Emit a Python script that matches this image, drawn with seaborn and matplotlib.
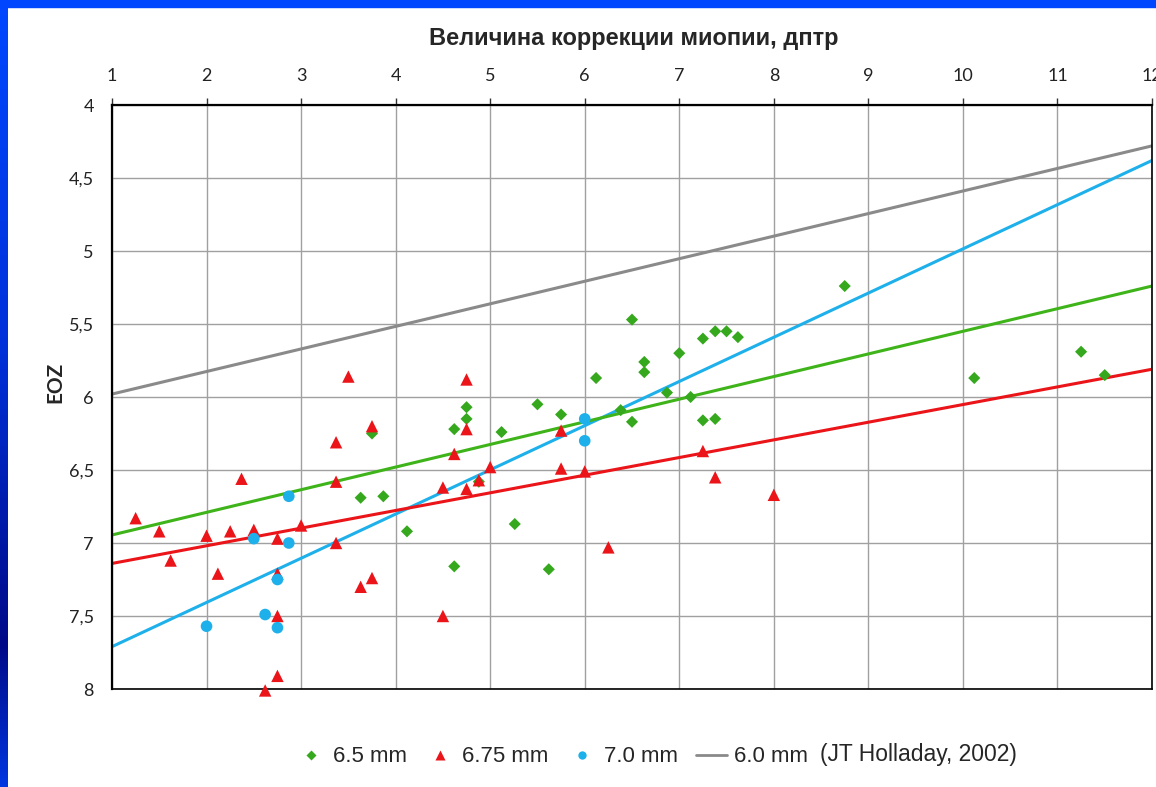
import numpy as np
import pandas as pd
import matplotlib
matplotlib.use("Agg")
import matplotlib.pyplot as plt
import seaborn as sns
from matplotlib.lines import Line2D
from matplotlib.colors import LinearSegmentedColormap

# 6.5 mm (green diamonds)
x_65 = [3.63, 3.75, 3.87, 4.12, 4.62, 4.62, 4.75, 4.75, 4.88, 5.12, 5.26,
        5.50, 5.62, 5.75, 6.12, 6.38, 6.50, 6.50, 6.63, 6.63, 6.87, 7.00,
        7.12, 7.25, 7.25, 7.38, 7.38, 7.50, 7.62, 8.75, 10.12, 11.25, 11.50]
y_65 = [6.69, 6.25, 6.68, 6.92, 6.22, 7.16, 6.07, 6.15, 6.58, 6.24, 6.87,
        6.05, 7.18, 6.12, 5.87, 6.09, 5.47, 6.17, 5.76, 5.83, 5.97, 5.70,
        6.00, 5.60, 6.16, 5.55, 6.15, 5.55, 5.59, 5.24, 5.87, 5.69, 5.85]

# 6.75 mm (red triangles)
x_675 = [1.25, 1.50, 1.62, 2.00, 2.12, 2.25, 2.37, 2.50, 2.62, 2.75, 2.75,
         2.75, 2.75, 3.00, 3.37, 3.37, 3.37, 3.50, 3.63, 3.75, 3.75, 4.50,
         4.50, 4.62, 4.75, 4.75, 4.75, 4.88, 5.00, 5.75, 5.75, 6.00, 6.25,
         7.25, 7.38, 8.00]
y_675 = [6.83, 6.92, 7.12, 6.95, 7.21, 6.92, 6.56, 6.91, 8.01, 6.97, 7.21,
         7.50, 7.91, 6.88, 6.31, 6.58, 7.00, 5.86, 7.30, 6.20, 7.24, 6.62,
         7.50, 6.39, 5.88, 6.22, 6.63, 6.57, 6.48, 6.23, 6.49, 6.51, 7.03,
         6.37, 6.55, 6.67]

# 7.0 mm (blue circles)
x_70 = [2.00, 2.50, 2.62, 2.75, 2.75, 2.87, 2.87, 6.00, 6.00]
y_70 = [7.57, 6.97, 7.49, 7.25, 7.58, 6.68, 7.00, 6.15, 6.30]

# trend lines, values at x = 1 and x = 12
x_line = [1, 12]
line_60 = [5.98, 4.28]   # JT Holladay, 2002
line_65 = [6.945, 5.24]
line_675 = [7.14, 5.81]
line_70 = [7.71, 4.38]

x_ticks = list(range(1, 13))
y_ticks = [4, 4.5, 5, 5.5, 6, 6.5, 7, 7.5, 8]
y_tick_labels = ["4", "4,5", "5", "5,5", "6", "6,5", "7", "7,5", "8"]

GREEN = "#35a81e"
GREEN_LINE = "#3fb41a"
RED = "#ea1419"
BLUE = "#1eb0ea"
GREY = "#8a8a8a"

sns.set_style("white")
plt.rcParams["font.family"] = ["Lato", "DejaVu Sans"]

fig = plt.figure(figsize=(11.56, 7.87), dpi=100)

# blue frame on the left and top
bg = fig.add_axes([0, 0, 1, 1], zorder=-5)
bg.set_axis_off()
cmap = LinearSegmentedColormap.from_list(
    "frame", [(0, "#0048ff"), (0.45, "#0030d8"), (0.82, "#000a88"), (1, "#0036e0")])
grad = np.linspace(0, 1, 256).reshape(-1, 1)
bg.imshow(grad, cmap=cmap, aspect="auto", extent=[0, 8 / 1156, 0, 1],
          transform=bg.transAxes)
bg.add_patch(plt.Rectangle((0, 1 - 7 / 787), 1, 7 / 787, color="#0046ff",
                           transform=bg.transAxes))
bg.set_xlim(0, 1)
bg.set_ylim(0, 1)

ax = fig.add_axes([112 / 1156, 1 - 689 / 787, 1040 / 1156, 584 / 787])

lines = pd.DataFrame({
    "x": x_line * 4,
    "y": line_60 + line_70 + line_65 + line_675,
    "series": ["6.0"] * 2 + ["7.0"] * 2 + ["6.5"] * 2 + ["6.75"] * 2,
})
sns.lineplot(data=lines, x="x", y="y", hue="series",
             palette={"6.0": GREY, "7.0": BLUE, "6.5": GREEN_LINE, "6.75": RED},
             linewidth=2.2, legend=False, ax=ax, zorder=2)

sns.scatterplot(x=x_65, y=y_65, marker="D", s=38, color=GREEN,
                edgecolor="none", ax=ax, zorder=3, clip_on=False)
sns.scatterplot(x=x_675, y=y_675, marker="^", s=80, color=RED,
                edgecolor="none", ax=ax, zorder=3, clip_on=False)
sns.scatterplot(x=x_70, y=y_70, marker="o", s=70, color=BLUE,
                edgecolor="none", ax=ax, zorder=3, clip_on=False)

ax.set_xlim(1, 12)
ax.set_ylim(8, 4)
ax.set_xticks(x_ticks)
ax.set_yticks(y_ticks)
ax.set_yticklabels(y_tick_labels)
ax.xaxis.tick_top()
ax.tick_params(axis="both", direction="out", length=5, width=1, color="#333333",
               labelsize=13, labelcolor="#222222", pad=4)
ax.tick_params(axis="x", pad=10)
ax.tick_params(axis="y", pad=8)
ax.grid(True, color="#a0a0a0", linewidth=1)
ax.set_axisbelow(True)
for side, sp in ax.spines.items():
    sp.set_visible(True)
    sp.set_color("black")
    sp.set_linewidth(1.6 if side in ("left", "top") else 1.2)
ax.set_xlabel("")
ax.set_ylabel("")

fig.text(634 / 1156, 1 - 38 / 787, "Величина коррекции миопии, дптр",
         ha="center", va="center", fontsize=17, fontweight="bold",
         family=["Liberation Sans", "DejaVu Sans"])
fig.text(55 / 1156, 1 - 382 / 787, "EOZ", ha="center", va="center",
         rotation=90, fontsize=15, fontweight="bold")

handles = [
    Line2D([], [], linestyle="none", marker="D", markersize=5,
           color=GREEN, markeredgecolor="none"),
    Line2D([], [], linestyle="none", marker="^", markersize=7,
           color=RED, markeredgecolor="none"),
    Line2D([], [], linestyle="none", marker="o", markersize=6,
           color=BLUE, markeredgecolor="none"),
    Line2D([], [], color=GREY, linewidth=2),
]
labels = ["6.5 mm", "6.75 mm", "7.0 mm", "6.0 mm"]
leg = fig.legend(handles, labels, loc="center left", ncol=4,
                 bbox_to_anchor=(275 / 1156, 1 - 757 / 787), frameon=False,
                 prop={"family": "Liberation Sans", "size": 16},
                 handlelength=1.4, handletextpad=0.3, columnspacing=0.8)
fig.text(820 / 1156, 1 - 755 / 787, "(JT Holladay, 2002)", ha="left",
         va="center", fontsize=16.5, family=["Liberation Sans", "DejaVu Sans"])

fig.savefig("out.png", dpi=100)
